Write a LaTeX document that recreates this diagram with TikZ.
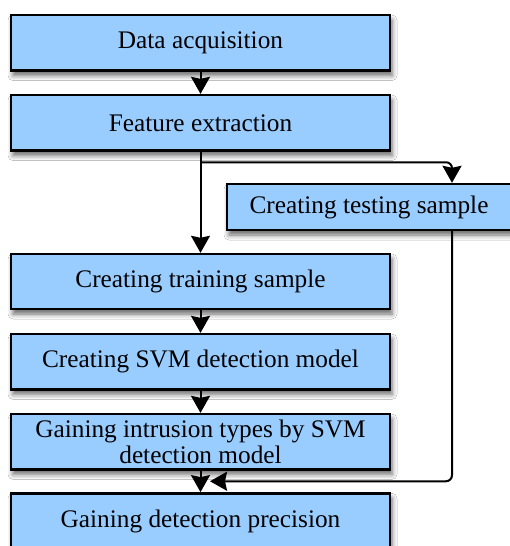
\documentclass[tikz,border=0pt]{standalone}
\usepackage{fontspec}
\setmainfont{Liberation Serif}
\usetikzlibrary{arrows.meta,shadows.blur,calc}
\definecolor{boxblue}{HTML}{99CCFF}

\begin{document}
\begin{tikzpicture}[x=1pt,y=-1pt,
  stage/.style={draw=black, line width=2.4pt, fill=boxblue, inner sep=0pt,
    align=center, font=\fontsize{25.3}{25.5}\selectfont,
    blur shadow={shadow xshift=2pt, shadow yshift=-5pt,
      shadow blur radius=5pt, shadow opacity=60}},
  flow/.style={line width=2pt, rounded corners=6pt,
    -{Stealth[length=17pt,width=19pt,inset=2pt]}}]

\useasboundingbox (0,0) rectangle (510,546);
\fill[white] (0,0) rectangle (510,546);
\clip (0,0) rectangle (510,546);

% main column of processing steps
\node[stage, minimum width=379pt, minimum height=55.5pt] (da) at (200.5,42.8) {Data acquisition};
\node[stage, minimum width=379pt, minimum height=55.5pt] (fe) at (200.5,122.8) {Feature extraction};
\node[stage, minimum width=284pt, minimum height=46pt]   (ts) at (369,207) {Creating testing sample};
\node[stage, minimum width=379pt, minimum height=55pt]   (tr) at (200.5,281.5) {Creating training sample};
\node[stage, minimum width=379pt, minimum height=55.3pt] (svm) at (200.5,361.7) {Creating SVM detection model};
\node[stage, minimum width=379pt, minimum height=55.3pt] (gi) at (200.5,441.7) {Gaining intrusion types by SVM\\detection model};
\node[stage, minimum width=379pt, minimum height=56.8pt] (gp) at (200.5,521.7) {Gaining detection precision};

% connectors
\coordinate (split) at ($(fe.south)+(0,10.5)$);
\coordinate (tsin)  at ($(ts.north)+(83,0)$);
\coordinate (tsout) at ($(ts.south)+(83,0)$);
\coordinate (merge) at ($(gi.south)+(9.5,10.7)$);

\draw[flow] (da.south) -- (fe.north);
\draw[flow] (fe.south) -- (tr.north);
\draw[flow] (split) -| (tsin);
\draw[flow] (tr.south) -- (svm.north);
\draw[flow] (svm.south) -- (gi.north);
\draw[flow] (gi.south) -- (gp.north);
\draw[flow] (tsout) |- (merge);
\end{tikzpicture}
\end{document}
